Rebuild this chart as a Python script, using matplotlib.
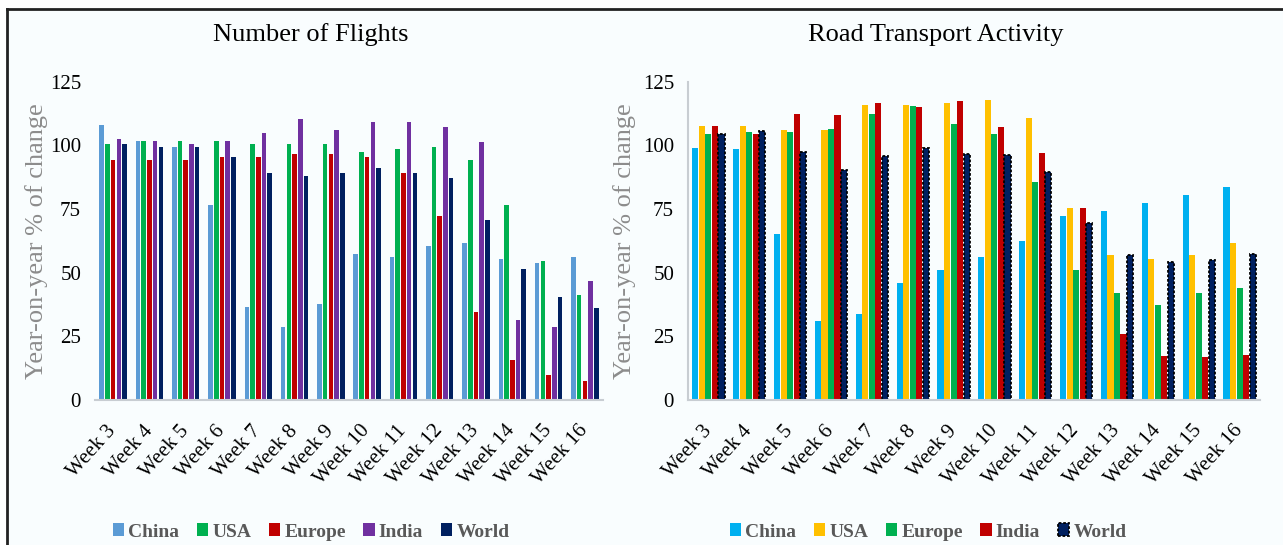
import matplotlib.pyplot as plt
import numpy as np

weeks = ["Week %d" % w for w in range(3, 17)]

# Number of Flights (year-on-year % of change)
fl_series = ["China", "USA", "Europe", "India", "World"]
fl_china = [108, 101.6, 99.5, 76.4, 36.7, 28.6, 37.8, 57.3, 56.3, 60.4, 61.5, 55.4, 53.8, 56.3]
fl_usa = [100.4, 101.6, 101.6, 101.6, 100.4, 100.4, 100.4, 97.4, 98.4, 99.5, 94.4, 76.4, 54.7, 41.3]
fl_europe = [94.4, 94.4, 94.4, 95.4, 95.4, 96.5, 96.5, 95.4, 89.1, 72.4, 34.6, 15.7, 9.7, 7.5]
fl_india = [102.6, 101.6, 100.4, 101.6, 105, 110.4, 106, 109.2, 109.2, 107.2, 101.4, 31.6, 28.6, 46.7]
fl_world = [100.4, 99.5, 99.5, 95.4, 89, 88, 89, 91.2, 89.1, 87.3, 70.7, 51.6, 40.4, 36]
fl_colors = ["#5b9bd5", "#00b050", "#c00000", "#7030a0", "#002060"]

# Road Transport Activity (year-on-year % of change)
rd_series = ["China", "USA", "Europe", "India", "World"]
rd_china = [99, 98.4, 65.1, 31.2, 33.7, 46, 51.2, 56.2, 62.5, 72.4, 74.1, 77.3, 80.4, 83.5]
rd_usa = [107.5, 107.5, 106, 106, 116, 116, 116.8, 118, 110.6, 75.3, 56.8, 55.4, 56.8, 61.8]
rd_europe = [104.6, 105.1, 105.1, 106.6, 112.2, 115.4, 108.3, 104.6, 85.6, 51.2, 42, 37.4, 42, 44]
rd_india = [107.5, 104.6, 112.3, 111.8, 116.5, 115, 117.5, 107.2, 96.9, 75.3, 25.9, 17.3, 16.8, 17.8]
rd_world = [104.6, 105.6, 97.4, 90.2, 95.7, 98.8, 96.7, 96.2, 89.5, 69.4, 56.8, 54.1, 55.1, 57.2]
rd_colors = ["#00b0f0", "#ffc000", "#00b050", "#c00000", "#002060"]

bg = "#f9fdfe"
serif = ["Liberation Serif", "DejaVu Serif"]
plt.rcParams["font.family"] = serif

W, H = 1283, 545
fig = plt.figure(figsize=(W / 100, H / 100), dpi=100)
fig.patch.set_facecolor("white")
# panel background and frame
fig.patches.append(plt.Rectangle((7 / W, 0), 1, 1 - 9 / H, transform=fig.transFigure,
                                 facecolor=bg, edgecolor="none", zorder=-10))
fig.add_artist(plt.Line2D([7 / W, 1], [1 - 9 / H] * 2, color="#222222", lw=2))
fig.add_artist(plt.Line2D([7 / W] * 2, [0, 1 - 9 / H], color="#222222", lw=2))

ax1 = fig.add_axes([95 / W, 0.266, 508 / W, 0.584])
ax2 = fig.add_axes([688 / W, 0.266, 572 / W, 0.584])

x = np.arange(len(weeks))


def draw(ax, data, names, colors, pitch, width, dashed_last):
    handles = []
    for i, (vals, name, col) in enumerate(zip(data, names, colors)):
        off = (i - 2) * pitch
        if dashed_last and i == len(data) - 1:
            b = ax.bar(x + off, vals, width, color=col, edgecolor="black",
                       linestyle=(0, (1.5, 1)), linewidth=1.3, label=name)
        else:
            b = ax.bar(x + off, vals, width, color=col, label=name)
        handles.append(b)
    ax.set_facecolor(bg)
    ax.set_xlim(-0.5, len(weeks) - 0.5)
    ax.set_ylim(0, 125)
    ax.set_yticks([0, 25, 50, 75, 100, 125])
    ax.tick_params(axis="y", length=0, labelsize=15, pad=10)
    ax.tick_params(axis="x", length=0, pad=20)
    ax.set_xticks(x)
    ax.set_xticklabels(weeks, rotation=48, ha="right", va="center",
                       rotation_mode="anchor", fontsize=15)
    for s in ["top", "right"]:
        ax.spines[s].set_visible(False)
    ax.spines["bottom"].set_color("#c8cdd2")
    ax.spines["bottom"].set_linewidth(1.5)
    ax.set_ylabel("Year-on-year % of change", fontsize=19, color="#8c8c8c")
    return handles


h1 = draw(ax1, [fl_china, fl_usa, fl_europe, fl_india, fl_world], fl_series, fl_colors,
          0.157, 0.125, False)
ax1.spines["left"].set_visible(False)
ax1.yaxis.set_label_coords((48 - 95) / 508, 0.5)
h2 = draw(ax2, [rd_china, rd_usa, rd_europe, rd_india, rd_world], rd_series, rd_colors,
          0.16, 0.15, True)
ax2.spines["left"].set_color("#c8cdd2")
ax2.spines["left"].set_linewidth(1.5)
ax2.yaxis.set_label_coords((636 - 688) / 572, 0.5)

fig.text(311 / W, 1 - 35 / H, "Number of Flights", ha="center", va="center", fontsize=19)
fig.text(936 / W, 1 - 35 / H, "Road Transport Activity", ha="center", va="center", fontsize=19)

leg_kw = dict(loc="center", ncol=5, frameon=False, handlelength=0.6, handleheight=0.6,
              handletextpad=0.2, columnspacing=0.9,
              prop={"family": serif, "weight": "bold", "size": 14})
l1 = fig.legend(handles=h1, labels=fl_series, bbox_to_anchor=(311 / W, 1 - 532 / H), **leg_kw)
l2 = fig.legend(handles=h2, labels=rd_series, bbox_to_anchor=(928 / W, 1 - 532 / H), **leg_kw)
for lg in (l1, l2):
    for t in lg.get_texts():
        t.set_color("#595959")

fig.savefig("out.png", dpi=100, facecolor="white")
